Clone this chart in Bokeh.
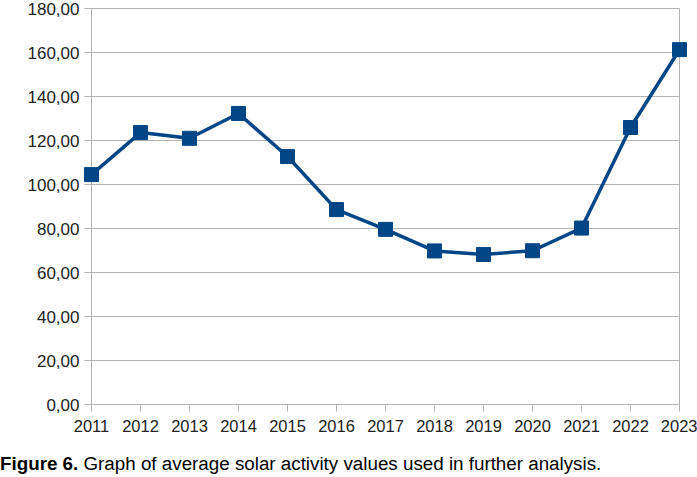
from bokeh.plotting import figure
from bokeh.models import FixedTicker, Range1d, Div
from bokeh.layouts import column
from bokeh.embed import file_html
from bokeh.resources import INLINE

# ---- data ----
years = [2011, 2012, 2013, 2014, 2015, 2016, 2017, 2018, 2019, 2020, 2021, 2022, 2023]
activity = [104.5, 123.6, 121.0, 132.3, 112.7, 88.6, 79.6, 69.8, 68.2, 69.9, 80.2, 125.9, 161.3]
y_ticks = [0, 20, 40, 60, 80, 100, 120, 140, 160, 180]
y_tick_labels = ["0,00", "20,00", "40,00", "60,00", "80,00", "100,00", "120,00", "140,00", "160,00", "180,00"]
x_tick_labels = [str(y) for y in years]
caption_bold = "Figure 6."
caption_text = "Graph of average solar activity values used in further analysis."

FONT = "Liberation Sans"
BLUE = "#004586"
GREY = "#b3b3b3"

p = figure(width=697, height=440, output_backend="svg", toolbar_location=None,
           x_range=Range1d(years[0], years[-1]), y_range=Range1d(y_ticks[0], y_ticks[-1]),
           min_border_left=91, min_border_right=18, min_border_top=8, min_border_bottom=36)

p.line(years, activity, line_color=BLUE, line_width=3.5)
r = p.scatter(years, activity, marker="square", size=14, fill_color=BLUE, line_color=BLUE)
r.level = "overlay"

# axes
p.xaxis.ticker = FixedTicker(ticks=years)
p.xaxis.major_label_overrides = {y: l for y, l in zip(years, x_tick_labels)}
p.yaxis.ticker = FixedTicker(ticks=y_ticks)
p.yaxis.major_label_overrides = {t: l for t, l in zip(y_ticks, y_tick_labels)}
for ax in (p.xaxis, p.yaxis):
    ax.axis_line_color = GREY
    ax.axis_line_width = 1
    ax.major_tick_line_color = GREY
    ax.major_tick_in = 0
    ax.major_tick_out = 7
    ax.minor_tick_line_color = None
    ax.major_label_text_font = FONT
    ax.major_label_text_color = "#222222"
p.xaxis.major_label_text_font_size = "16.5px"
p.yaxis.major_label_text_font_size = "17px"
p.xaxis.major_label_standoff = 8
p.yaxis.major_label_standoff = 5

p.xgrid.grid_line_color = None
p.ygrid.grid_line_color = GREY
p.ygrid.grid_line_width = 1
p.outline_line_color = GREY
p.outline_line_width = 1
p.background_fill_color = "white"
p.border_fill_color = "white"

cap = Div(text=f"<b>{caption_bold}</b> {caption_text}", width=697, height=26,
          margin=(11, 0, 0, 0),
          styles={"font-family": FONT, "font-size": "18.8px", "color": "#000000",
                  "white-space": "nowrap"})

layout = column(p, cap, spacing=0)
open("out.html", "w").write(file_html(layout, INLINE))
